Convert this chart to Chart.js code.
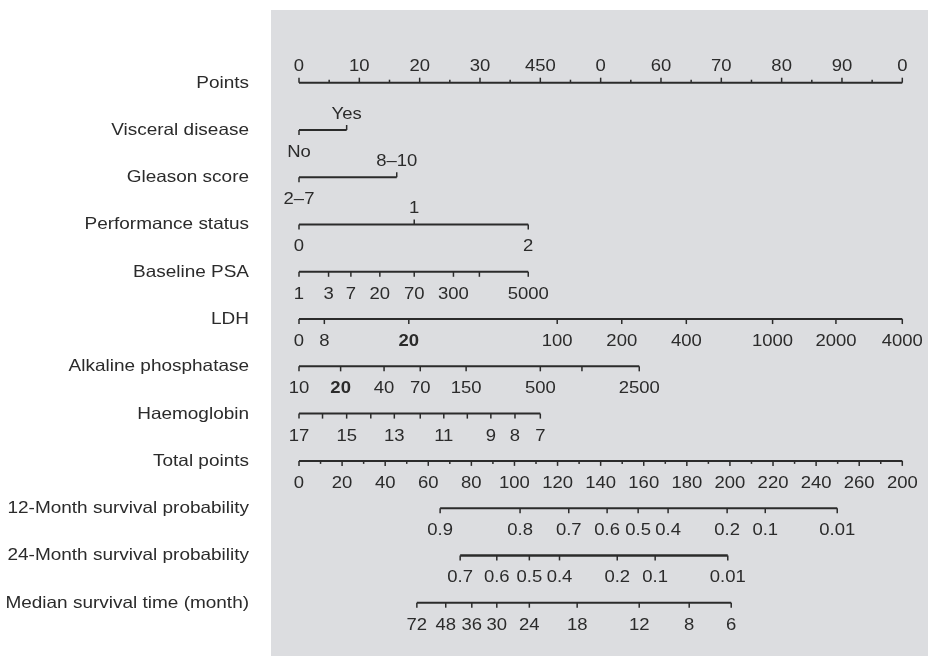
<!DOCTYPE html>
<html>
<head>
<meta charset="utf-8">
<script src="https://cdn.jsdelivr.net/npm/chart.js@4/dist/chart.umd.min.js"></script>
<style>
  html, body { margin: 0; padding: 0; background: #ffffff; }
  #nomogram { display: block; }
</style>
</head>
<body>
<canvas id="nomogram" width="928" height="656"></canvas>
<script>
// === Row names (top to bottom) ===
const rowNames = [
    "Points", "Visceral disease", "Gleason score", "Performance status",
    "Baseline PSA", "LDH", "Alkaline phosphatase", "Haemoglobin",
    "Total points", "12-Month survival probability",
    "24-Month survival probability", "Median survival time (month)"
];

// === Points scale (0-100) ===
const pointsTicks = [0, 10, 20, 30, 40, 50, 60, 70, 80, 90, 100];
const pointsLabels = ["0", "10", "20", "30", "450", "0", "60", "70", "80", "90", "0"];
const pointsMinor = [5, 15, 25, 35, 45, 55, 65, 75, 85, 95];

// === Predictors (positions in points) ===
const visceralPoints = [0, 7.9];
const visceralLabels = ["No", "Yes"];
const gleasonPoints = [0, 16.2];
const gleasonLabels = ["2\u20137", "8\u201310"];
const performancePoints = [0, 19.1, 38.0];
const performanceLabels = ["0", "1", "2"];
const psaPoints = [0, 4.9, 8.6, 13.4, 19.1, 25.6, 29.9, 38.0];
const psaLabels = ["1", "3", "7", "20", "70", "300", "", "5000"];
const ldhPoints = [0, 4.2, 18.2, 42.8, 53.5, 64.2, 78.5, 89.0, 100];
const ldhLabels = ["0", "8", "20", "100", "200", "400", "1000", "2000", "4000"];
const alpPoints = [0, 6.9, 14.1, 20.1, 27.7, 40.0, 46.9, 56.4];
const alpLabels = ["10", "20", "40", "70", "150", "500", "", "2500"];
const hbPoints = [0, 3.9, 7.9, 11.9, 15.8, 20.1, 24.0, 27.9, 31.8, 35.8, 40.0];
const hbLabels = ["17", "", "15", "", "13", "", "11", "", "9", "8", "7"];

// === Total points scale (0-280) ===
const totalTicks = [0, 20, 40, 60, 80, 100, 120, 140, 160, 180, 200, 220, 240, 260, 280];
const totalLabels = ["0", "20", "40", "60", "80", "100", "120", "140", "160", "180", "200", "220", "240", "260", "200"];
const totalMinor = [10, 30, 50, 70, 90, 110, 130, 150, 170, 190, 210, 230, 250, 270];

// === Outcomes (positions in total points) ===
const surv12Total = [65.5, 102.6, 125.2, 143.0, 157.4, 171.3, 198.7, 216.4, 249.8];
const surv12Labels = ["0.9", "0.8", "0.7", "0.6", "0.5", "0.4", "0.2", "0.1", "0.01"];
const surv24Total = [74.8, 91.8, 106.9, 120.9, 147.7, 165.3, 199.0];
const surv24Labels = ["0.7", "0.6", "0.5", "0.4", "0.2", "0.1", "0.01"];
const medianTotal = [54.7, 68.1, 80.2, 91.8, 106.9, 129.1, 157.9, 181.1, 200.6];
const medianLabels = ["72", "48", "36", "30", "24", "18", "12", "8", "6"];

// === Row definitions ===
const rows = [
    { values: pointsTicks, labels: pointsLabels, minor: pointsMinor, side: "up", axis: "x" },
    { values: visceralPoints, labels: visceralLabels, side: ["down", "up"], axis: "x" },
    { values: gleasonPoints, labels: gleasonLabels, side: ["down", "up"], axis: "x" },
    { values: performancePoints, labels: performanceLabels, side: ["down", "up", "down"], axis: "x" },
    { values: psaPoints, labels: psaLabels, side: "down", axis: "x" },
    { values: ldhPoints, labels: ldhLabels, side: "down", axis: "x", bold: [2] },
    { values: alpPoints, labels: alpLabels, side: "down", axis: "x", bold: [1] },
    { values: hbPoints, labels: hbLabels, side: "down", axis: "x" },
    { values: totalTicks, labels: totalLabels, minor: totalMinor, side: "down", axis: "x2" },
    { values: surv12Total, labels: surv12Labels, side: "down", axis: "x2" },
    { values: surv24Total, labels: surv24Labels, side: "down", axis: "x2", width: 2.6 },
    { values: medianTotal, labels: medianLabels, side: "down", axis: "x2" },
];

const INK = "#2b2b2b";
const FONT = "'Liberation Sans', Arial, Helvetica, sans-serif";
const FONT_SIZE = 16.5;

// stretched text, centre of glyphs at cy
const drawText = (ctx, text, x, cy, align, stretch, bold) => {
    ctx.save();
    ctx.font = `${bold ? "bold " : ""}${FONT_SIZE}px ${FONT}`;
    ctx.textAlign = align;
    ctx.textBaseline = "alphabetic";
    ctx.translate(x, cy + FONT_SIZE * 0.36);
    ctx.scale(stretch, 1);
    ctx.fillText(text, 0, 0);
    ctx.restore();
};

// === Panel + ticks + labels plugin ===
const nomogramPlugin = {
    id: "nomogram",
    beforeDraw(chart) {
        const ctx = chart.ctx;
        ctx.save();
        ctx.fillStyle = "#ffffff";
        ctx.fillRect(0, 0, chart.width, chart.height);
        ctx.fillStyle = "#dcdde0";
        ctx.fillRect(271, 10, chart.width - 271, chart.height - 10);
        ctx.restore();
    },
    afterDatasetsDraw(chart) {
        const ctx = chart.ctx;
        const yScale = chart.scales.y;
        ctx.save();
        ctx.strokeStyle = INK;
        ctx.fillStyle = INK;
        ctx.lineWidth = 1.5;

        rows.forEach((row, i) => {
            const xScale = chart.scales[row.axis];
            const y = yScale.getPixelForValue(i);

            // row name
            drawText(ctx, rowNames[i], 249, y - 1, "right", 1.15, false);

            // minor ticks
            (row.minor || []).forEach((v) => {
                const x = xScale.getPixelForValue(v);
                const dir = row.side === "up" ? -1 : 1;
                ctx.beginPath();
                ctx.moveTo(x, y);
                ctx.lineTo(x, y + dir * 3);
                ctx.stroke();
            });

            // major ticks + labels
            row.values.forEach((v, j) => {
                const x = xScale.getPixelForValue(v);
                const side = Array.isArray(row.side) ? row.side[j] : row.side;
                const dir = side === "up" ? -1 : 1;
                ctx.beginPath();
                ctx.moveTo(x, y);
                ctx.lineTo(x, y + dir * 5);
                ctx.stroke();
                const label = row.labels[j];
                if (label) {
                    const cy = side === "up" ? y - 17.3 : y + 21;
                    const bold = row.bold && row.bold.includes(j);
                    drawText(ctx, label, x, cy, "center", 1.12, bold);
                }
            });
        });
        ctx.restore();
    },
};

// === Axis lines as datasets ===
const datasets = rows.map((row, i) => ({
    data: [
        { x: row.values[0], y: i },
        { x: row.values[row.values.length - 1], y: i },
    ],
    xAxisID: row.axis,
    yAxisID: "y",
    showLine: true,
    borderColor: INK,
    borderWidth: row.width || 2,
    pointRadius: 0,
    clip: false,
}));

const ctx = document.getElementById("nomogram").getContext("2d");
new Chart(ctx, {
    type: "scatter",
    data: { datasets },
    options: {
        responsive: false,
        animation: false,
        events: [],
        layout: {
            padding: { left: 299, right: 25.7, top: 82.7, bottom: 53.3 },
        },
        plugins: {
            legend: { display: false },
            tooltip: { enabled: false },
        },
        scales: {
            x: { type: "linear", min: 0, max: 100, display: false },
            x2: { type: "linear", axis: "x", min: 0, max: 280, display: false },
            y: { type: "linear", min: 0, max: 11, reverse: true, display: false },
        },
    },
    plugins: [nomogramPlugin],
});
</script>
</body>
</html>
